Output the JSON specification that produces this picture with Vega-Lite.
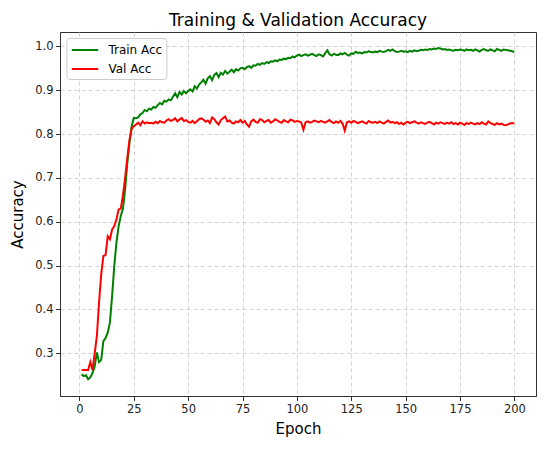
{
  "$schema": "https://vega.github.io/schema/vega-lite/v6.json",
  "width": 476,
  "height": 364,
  "autosize": "none",
  "padding": {"left": 60, "top": 32, "right": 14, "bottom": 53},
  "background": "white",
  "config": {
    "font": "DejaVu Sans",
    "view": {"stroke": "#333333", "strokeWidth": 1},
    "axis": {
      "labelFont": "DejaVu Sans",
      "labelFontSize": 11.5,
      "labelColor": "#222222",
      "titleFont": "DejaVu Sans",
      "titleFontSize": 15,
      "titleFontWeight": "normal",
      "titleColor": "#000000",
      "domainColor": "#333333",
      "tickColor": "#333333",
      "tickSize": 4.5,
      "labelPadding": 2.5,
      "gridColor": "#c8c8c8",
      "gridDash": [4, 3],
      "gridWidth": 0.8
    }
  },
  "title": {
    "text": "Training & Validation Accuracy",
    "font": "DejaVu Sans",
    "fontSize": 17,
    "fontWeight": "normal",
    "color": "#000000",
    "anchor": "middle",
    "baseline": "alphabetic",
    "offset": -11
  },
  "data": {
    "values": [
      {"Epoch": 1, "Train Acc": 0.252, "Val Acc": 0.262},
      {"Epoch": 2, "Train Acc": 0.248, "Val Acc": 0.262},
      {"Epoch": 3, "Train Acc": 0.250, "Val Acc": 0.262},
      {"Epoch": 4, "Train Acc": 0.241, "Val Acc": 0.262},
      {"Epoch": 5, "Train Acc": 0.245, "Val Acc": 0.280},
      {"Epoch": 6, "Train Acc": 0.255, "Val Acc": 0.262},
      {"Epoch": 7, "Train Acc": 0.270, "Val Acc": 0.300},
      {"Epoch": 8, "Train Acc": 0.302, "Val Acc": 0.339},
      {"Epoch": 9, "Train Acc": 0.280, "Val Acc": 0.416},
      {"Epoch": 10, "Train Acc": 0.285, "Val Acc": 0.480},
      {"Epoch": 11, "Train Acc": 0.328, "Val Acc": 0.522},
      {"Epoch": 12, "Train Acc": 0.335, "Val Acc": 0.524},
      {"Epoch": 13, "Train Acc": 0.347, "Val Acc": 0.567},
      {"Epoch": 14, "Train Acc": 0.370, "Val Acc": 0.560},
      {"Epoch": 15, "Train Acc": 0.430, "Val Acc": 0.582},
      {"Epoch": 16, "Train Acc": 0.499, "Val Acc": 0.590},
      {"Epoch": 17, "Train Acc": 0.552, "Val Acc": 0.605},
      {"Epoch": 18, "Train Acc": 0.590, "Val Acc": 0.628},
      {"Epoch": 19, "Train Acc": 0.613, "Val Acc": 0.630},
      {"Epoch": 20, "Train Acc": 0.630, "Val Acc": 0.660},
      {"Epoch": 21, "Train Acc": 0.674, "Val Acc": 0.700},
      {"Epoch": 22, "Train Acc": 0.734, "Val Acc": 0.745},
      {"Epoch": 23, "Train Acc": 0.780, "Val Acc": 0.787},
      {"Epoch": 24, "Train Acc": 0.818, "Val Acc": 0.812},
      {"Epoch": 25, "Train Acc": 0.837, "Val Acc": 0.818},
      {"Epoch": 26, "Train Acc": 0.836, "Val Acc": 0.822},
      {"Epoch": 27, "Train Acc": 0.838, "Val Acc": 0.826},
      {"Epoch": 28, "Train Acc": 0.845, "Val Acc": 0.820},
      {"Epoch": 29, "Train Acc": 0.848, "Val Acc": 0.829},
      {"Epoch": 30, "Train Acc": 0.855, "Val Acc": 0.824},
      {"Epoch": 31, "Train Acc": 0.852, "Val Acc": 0.827},
      {"Epoch": 32, "Train Acc": 0.858, "Val Acc": 0.825},
      {"Epoch": 33, "Train Acc": 0.856, "Val Acc": 0.826},
      {"Epoch": 34, "Train Acc": 0.862, "Val Acc": 0.824},
      {"Epoch": 35, "Train Acc": 0.860, "Val Acc": 0.828},
      {"Epoch": 36, "Train Acc": 0.866, "Val Acc": 0.825},
      {"Epoch": 37, "Train Acc": 0.871, "Val Acc": 0.830},
      {"Epoch": 38, "Train Acc": 0.868, "Val Acc": 0.827},
      {"Epoch": 39, "Train Acc": 0.876, "Val Acc": 0.826},
      {"Epoch": 40, "Train Acc": 0.874, "Val Acc": 0.831},
      {"Epoch": 41, "Train Acc": 0.879, "Val Acc": 0.834},
      {"Epoch": 42, "Train Acc": 0.877, "Val Acc": 0.830},
      {"Epoch": 43, "Train Acc": 0.885, "Val Acc": 0.832},
      {"Epoch": 44, "Train Acc": 0.893, "Val Acc": 0.836},
      {"Epoch": 45, "Train Acc": 0.884, "Val Acc": 0.829},
      {"Epoch": 46, "Train Acc": 0.896, "Val Acc": 0.833},
      {"Epoch": 47, "Train Acc": 0.890, "Val Acc": 0.837},
      {"Epoch": 48, "Train Acc": 0.898, "Val Acc": 0.830},
      {"Epoch": 49, "Train Acc": 0.893, "Val Acc": 0.832},
      {"Epoch": 50, "Train Acc": 0.898, "Val Acc": 0.828},
      {"Epoch": 51, "Train Acc": 0.902, "Val Acc": 0.826},
      {"Epoch": 52, "Train Acc": 0.897, "Val Acc": 0.830},
      {"Epoch": 53, "Train Acc": 0.909, "Val Acc": 0.825},
      {"Epoch": 54, "Train Acc": 0.904, "Val Acc": 0.829},
      {"Epoch": 55, "Train Acc": 0.913, "Val Acc": 0.834},
      {"Epoch": 56, "Train Acc": 0.918, "Val Acc": 0.836},
      {"Epoch": 57, "Train Acc": 0.924, "Val Acc": 0.833},
      {"Epoch": 58, "Train Acc": 0.915, "Val Acc": 0.828},
      {"Epoch": 59, "Train Acc": 0.927, "Val Acc": 0.831},
      {"Epoch": 60, "Train Acc": 0.932, "Val Acc": 0.825},
      {"Epoch": 61, "Train Acc": 0.923, "Val Acc": 0.838},
      {"Epoch": 62, "Train Acc": 0.935, "Val Acc": 0.834},
      {"Epoch": 63, "Train Acc": 0.939, "Val Acc": 0.827},
      {"Epoch": 64, "Train Acc": 0.930, "Val Acc": 0.822},
      {"Epoch": 65, "Train Acc": 0.940, "Val Acc": 0.832},
      {"Epoch": 66, "Train Acc": 0.936, "Val Acc": 0.836},
      {"Epoch": 67, "Train Acc": 0.944, "Val Acc": 0.840},
      {"Epoch": 68, "Train Acc": 0.938, "Val Acc": 0.829},
      {"Epoch": 69, "Train Acc": 0.942, "Val Acc": 0.831},
      {"Epoch": 70, "Train Acc": 0.947, "Val Acc": 0.826},
      {"Epoch": 71, "Train Acc": 0.941, "Val Acc": 0.824},
      {"Epoch": 72, "Train Acc": 0.948, "Val Acc": 0.829},
      {"Epoch": 73, "Train Acc": 0.945, "Val Acc": 0.827},
      {"Epoch": 74, "Train Acc": 0.950, "Val Acc": 0.832},
      {"Epoch": 75, "Train Acc": 0.951, "Val Acc": 0.826},
      {"Epoch": 76, "Train Acc": 0.948, "Val Acc": 0.830},
      {"Epoch": 77, "Train Acc": 0.953, "Val Acc": 0.822},
      {"Epoch": 78, "Train Acc": 0.955, "Val Acc": 0.817},
      {"Epoch": 79, "Train Acc": 0.951, "Val Acc": 0.829},
      {"Epoch": 80, "Train Acc": 0.957, "Val Acc": 0.833},
      {"Epoch": 81, "Train Acc": 0.956, "Val Acc": 0.828},
      {"Epoch": 82, "Train Acc": 0.960, "Val Acc": 0.826},
      {"Epoch": 83, "Train Acc": 0.958, "Val Acc": 0.834},
      {"Epoch": 84, "Train Acc": 0.962, "Val Acc": 0.832},
      {"Epoch": 85, "Train Acc": 0.960, "Val Acc": 0.827},
      {"Epoch": 86, "Train Acc": 0.964, "Val Acc": 0.830},
      {"Epoch": 87, "Train Acc": 0.962, "Val Acc": 0.832},
      {"Epoch": 88, "Train Acc": 0.966, "Val Acc": 0.826},
      {"Epoch": 89, "Train Acc": 0.965, "Val Acc": 0.829},
      {"Epoch": 90, "Train Acc": 0.968, "Val Acc": 0.834},
      {"Epoch": 91, "Train Acc": 0.966, "Val Acc": 0.831},
      {"Epoch": 92, "Train Acc": 0.970, "Val Acc": 0.828},
      {"Epoch": 93, "Train Acc": 0.969, "Val Acc": 0.826},
      {"Epoch": 94, "Train Acc": 0.972, "Val Acc": 0.832},
      {"Epoch": 95, "Train Acc": 0.971, "Val Acc": 0.829},
      {"Epoch": 96, "Train Acc": 0.974, "Val Acc": 0.827},
      {"Epoch": 97, "Train Acc": 0.973, "Val Acc": 0.833},
      {"Epoch": 98, "Train Acc": 0.977, "Val Acc": 0.831},
      {"Epoch": 99, "Train Acc": 0.975, "Val Acc": 0.828},
      {"Epoch": 100, "Train Acc": 0.979, "Val Acc": 0.830},
      {"Epoch": 101, "Train Acc": 0.981, "Val Acc": 0.829},
      {"Epoch": 102, "Train Acc": 0.978, "Val Acc": 0.826},
      {"Epoch": 103, "Train Acc": 0.980, "Val Acc": 0.810},
      {"Epoch": 104, "Train Acc": 0.982, "Val Acc": 0.827},
      {"Epoch": 105, "Train Acc": 0.979, "Val Acc": 0.829},
      {"Epoch": 106, "Train Acc": 0.981, "Val Acc": 0.826},
      {"Epoch": 107, "Train Acc": 0.983, "Val Acc": 0.828},
      {"Epoch": 108, "Train Acc": 0.980, "Val Acc": 0.831},
      {"Epoch": 109, "Train Acc": 0.978, "Val Acc": 0.829},
      {"Epoch": 110, "Train Acc": 0.982, "Val Acc": 0.827},
      {"Epoch": 111, "Train Acc": 0.980, "Val Acc": 0.830},
      {"Epoch": 112, "Train Acc": 0.977, "Val Acc": 0.828},
      {"Epoch": 113, "Train Acc": 0.984, "Val Acc": 0.826},
      {"Epoch": 114, "Train Acc": 0.991, "Val Acc": 0.829},
      {"Epoch": 115, "Train Acc": 0.982, "Val Acc": 0.832},
      {"Epoch": 116, "Train Acc": 0.979, "Val Acc": 0.827},
      {"Epoch": 117, "Train Acc": 0.983, "Val Acc": 0.825},
      {"Epoch": 118, "Train Acc": 0.981, "Val Acc": 0.829},
      {"Epoch": 119, "Train Acc": 0.980, "Val Acc": 0.826},
      {"Epoch": 120, "Train Acc": 0.984, "Val Acc": 0.830},
      {"Epoch": 121, "Train Acc": 0.982, "Val Acc": 0.824},
      {"Epoch": 122, "Train Acc": 0.985, "Val Acc": 0.808},
      {"Epoch": 123, "Train Acc": 0.981, "Val Acc": 0.827},
      {"Epoch": 124, "Train Acc": 0.979, "Val Acc": 0.829},
      {"Epoch": 125, "Train Acc": 0.984, "Val Acc": 0.826},
      {"Epoch": 126, "Train Acc": 0.983, "Val Acc": 0.830},
      {"Epoch": 127, "Train Acc": 0.988, "Val Acc": 0.828},
      {"Epoch": 128, "Train Acc": 0.985, "Val Acc": 0.825},
      {"Epoch": 129, "Train Acc": 0.986, "Val Acc": 0.827},
      {"Epoch": 130, "Train Acc": 0.984, "Val Acc": 0.829},
      {"Epoch": 131, "Train Acc": 0.987, "Val Acc": 0.826},
      {"Epoch": 132, "Train Acc": 0.986, "Val Acc": 0.824},
      {"Epoch": 133, "Train Acc": 0.989, "Val Acc": 0.830},
      {"Epoch": 134, "Train Acc": 0.987, "Val Acc": 0.827},
      {"Epoch": 135, "Train Acc": 0.986, "Val Acc": 0.826},
      {"Epoch": 136, "Train Acc": 0.988, "Val Acc": 0.828},
      {"Epoch": 137, "Train Acc": 0.987, "Val Acc": 0.825},
      {"Epoch": 138, "Train Acc": 0.990, "Val Acc": 0.829},
      {"Epoch": 139, "Train Acc": 0.988, "Val Acc": 0.826},
      {"Epoch": 140, "Train Acc": 0.987, "Val Acc": 0.824},
      {"Epoch": 141, "Train Acc": 0.989, "Val Acc": 0.828},
      {"Epoch": 142, "Train Acc": 0.992, "Val Acc": 0.831},
      {"Epoch": 143, "Train Acc": 0.990, "Val Acc": 0.826},
      {"Epoch": 144, "Train Acc": 0.993, "Val Acc": 0.828},
      {"Epoch": 145, "Train Acc": 0.989, "Val Acc": 0.825},
      {"Epoch": 146, "Train Acc": 0.987, "Val Acc": 0.827},
      {"Epoch": 147, "Train Acc": 0.988, "Val Acc": 0.823},
      {"Epoch": 148, "Train Acc": 0.990, "Val Acc": 0.826},
      {"Epoch": 149, "Train Acc": 0.988, "Val Acc": 0.822},
      {"Epoch": 150, "Train Acc": 0.989, "Val Acc": 0.826},
      {"Epoch": 151, "Train Acc": 0.987, "Val Acc": 0.828},
      {"Epoch": 152, "Train Acc": 0.990, "Val Acc": 0.825},
      {"Epoch": 153, "Train Acc": 0.988, "Val Acc": 0.827},
      {"Epoch": 154, "Train Acc": 0.991, "Val Acc": 0.829},
      {"Epoch": 155, "Train Acc": 0.989, "Val Acc": 0.826},
      {"Epoch": 156, "Train Acc": 0.990, "Val Acc": 0.824},
      {"Epoch": 157, "Train Acc": 0.992, "Val Acc": 0.827},
      {"Epoch": 158, "Train Acc": 0.991, "Val Acc": 0.825},
      {"Epoch": 159, "Train Acc": 0.993, "Val Acc": 0.823},
      {"Epoch": 160, "Train Acc": 0.992, "Val Acc": 0.826},
      {"Epoch": 161, "Train Acc": 0.994, "Val Acc": 0.828},
      {"Epoch": 162, "Train Acc": 0.993, "Val Acc": 0.825},
      {"Epoch": 163, "Train Acc": 0.995, "Val Acc": 0.822},
      {"Epoch": 164, "Train Acc": 0.994, "Val Acc": 0.826},
      {"Epoch": 165, "Train Acc": 0.996, "Val Acc": 0.824},
      {"Epoch": 166, "Train Acc": 0.995, "Val Acc": 0.827},
      {"Epoch": 167, "Train Acc": 0.993, "Val Acc": 0.825},
      {"Epoch": 168, "Train Acc": 0.994, "Val Acc": 0.823},
      {"Epoch": 169, "Train Acc": 0.992, "Val Acc": 0.826},
      {"Epoch": 170, "Train Acc": 0.993, "Val Acc": 0.824},
      {"Epoch": 171, "Train Acc": 0.991, "Val Acc": 0.827},
      {"Epoch": 172, "Train Acc": 0.990, "Val Acc": 0.823},
      {"Epoch": 173, "Train Acc": 0.992, "Val Acc": 0.825},
      {"Epoch": 174, "Train Acc": 0.991, "Val Acc": 0.822},
      {"Epoch": 175, "Train Acc": 0.993, "Val Acc": 0.826},
      {"Epoch": 176, "Train Acc": 0.992, "Val Acc": 0.824},
      {"Epoch": 177, "Train Acc": 0.990, "Val Acc": 0.821},
      {"Epoch": 178, "Train Acc": 0.993, "Val Acc": 0.825},
      {"Epoch": 179, "Train Acc": 0.991, "Val Acc": 0.823},
      {"Epoch": 180, "Train Acc": 0.992, "Val Acc": 0.826},
      {"Epoch": 181, "Train Acc": 0.990, "Val Acc": 0.824},
      {"Epoch": 182, "Train Acc": 0.993, "Val Acc": 0.822},
      {"Epoch": 183, "Train Acc": 0.991, "Val Acc": 0.825},
      {"Epoch": 184, "Train Acc": 0.988, "Val Acc": 0.823},
      {"Epoch": 185, "Train Acc": 0.992, "Val Acc": 0.827},
      {"Epoch": 186, "Train Acc": 0.994, "Val Acc": 0.824},
      {"Epoch": 187, "Train Acc": 0.991, "Val Acc": 0.822},
      {"Epoch": 188, "Train Acc": 0.990, "Val Acc": 0.829},
      {"Epoch": 189, "Train Acc": 0.993, "Val Acc": 0.825},
      {"Epoch": 190, "Train Acc": 0.991, "Val Acc": 0.823},
      {"Epoch": 191, "Train Acc": 0.989, "Val Acc": 0.821},
      {"Epoch": 192, "Train Acc": 0.994, "Val Acc": 0.825},
      {"Epoch": 193, "Train Acc": 0.992, "Val Acc": 0.822},
      {"Epoch": 194, "Train Acc": 0.990, "Val Acc": 0.824},
      {"Epoch": 195, "Train Acc": 0.993, "Val Acc": 0.821},
      {"Epoch": 196, "Train Acc": 0.992, "Val Acc": 0.820},
      {"Epoch": 197, "Train Acc": 0.991, "Val Acc": 0.822},
      {"Epoch": 198, "Train Acc": 0.990, "Val Acc": 0.824},
      {"Epoch": 199, "Train Acc": 0.989, "Val Acc": 0.825},
      {"Epoch": 200, "Train Acc": 0.987, "Val Acc": 0.824}
    ]
  },
  "transform": [
    {"fold": ["Train Acc", "Val Acc"], "as": ["Series", "Accuracy"]}
  ],
  "mark": {"type": "line", "strokeWidth": 2, "clip": true},
  "encoding": {
    "x": {
      "field": "Epoch",
      "type": "quantitative",
      "scale": {"domain": [-8.95, 209.95], "nice": false, "zero": false},
      "axis": {"values": [0, 25, 50, 75, 100, 125, 150, 175, 200], "titlePadding": 7}
    },
    "y": {
      "field": "Accuracy",
      "type": "quantitative",
      "scale": {"domain": [0.2027, 1.0328], "nice": false, "zero": false},
      "axis": {"values": [0.3, 0.4, 0.5, 0.6, 0.7, 0.8, 0.9, 1.0], "format": ".1f", "titlePadding": 9}
    },
    "color": {
      "field": "Series",
      "type": "nominal",
      "scale": {"domain": ["Train Acc", "Val Acc"], "range": ["green", "red"]},
      "legend": {
        "title": null,
        "orient": "none",
        "legendX": 6.4,
        "legendY": 6,
        "symbolType": "M-1,0H3",
        "symbolSize": 175,
        "symbolStrokeWidth": 2,
        "labelFont": "DejaVu Sans",
        "labelFontSize": 12,
        "labelColor": "#000000",
        "labelOffset": 22,
        "rowPadding": 5,
        "padding": 4,
        "fillColor": "white",
        "strokeColor": "#cccccc",
        "cornerRadius": 3
      }
    }
  }
}
